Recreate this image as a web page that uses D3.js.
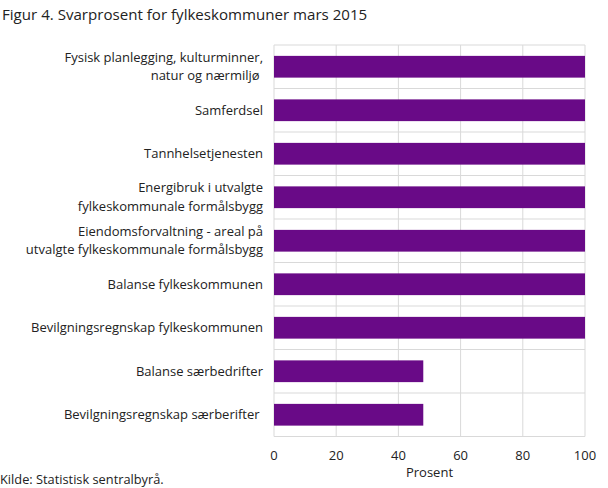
<!DOCTYPE html>
<html><head><meta charset="utf-8">
<script src="https://cdn.jsdelivr.net/npm/d3@7"></script>
<style>body{margin:0;background:#fff;font-family:"Open Sans",sans-serif;} text{white-space:pre;}</style>
</head><body>
<svg id="c" width="608" height="488"></svg>
<script>
const categories = [
  ["Fysisk planlegging, kulturminner,", "natur og nærmiljø "],
  ["Samferdsel"],
  ["Tannhelsetjenesten"],
  ["Energibruk i utvalgte", "fylkeskommunale formålsbygg"],
  ["Eiendomsforvaltning - areal på", "utvalgte fylkeskommunale formålsbygg"],
  ["Balanse fylkeskommunen"],
  ["Bevilgningsregnskap fylkeskommunen"],
  ["Balanse særbedrifter"],
  ["Bevilgningsregnskap særberifter "]
];
const values = [100, 100, 100, 100, 100, 100, 100, 48, 48];
const xTicks = [0, 20, 40, 60, 80, 100];

(function () {
const svg = d3.select("#c");
const mLeft = 274, mRight = 585, mTop = 45, mBottom = 436.5;
const x = d3.scaleLinear().domain([0, 100]).range([mLeft, mRight]);
const y = d3.scaleBand().domain(d3.range(categories.length)).range([mTop, mBottom]).paddingInner(0.5).paddingOuter(0.25);
const grid = "#d9d9d9";
const tc = "#222";

svg.append("text").attr("x", 2).attr("y", 20).attr("font-size", 15.1).attr("fill", tc).text("Figur 4. Svarprosent for fylkeskommuner mars 2015");

svg.append("g").selectAll("line").data(xTicks).join("line")
  .attr("x1", d => x(d)).attr("x2", d => x(d)).attr("y1", mTop).attr("y2", mBottom)
  .attr("stroke", grid).attr("stroke-width", 1);
const bounds = d3.range(categories.length + 1).map(i => mTop + i * (mBottom - mTop) / categories.length);
svg.append("g").selectAll("line").data(bounds).join("line")
  .attr("x1", mLeft).attr("x2", mRight).attr("y1", d => d).attr("y2", d => d)
  .attr("stroke", grid).attr("stroke-width", 1);

svg.append("g").selectAll("rect").data(values).join("rect")
  .attr("x", x(0)).attr("y", (d, i) => y(i)).attr("width", d => x(d) - x(0)).attr("height", y.bandwidth())
  .attr("fill", "#690a87");

const lab = svg.append("g").attr("font-size", 13).attr("fill", tc).attr("text-anchor", "end");
categories.forEach((lines, i) => {
  const cy = y(i) + y.bandwidth() / 2;
  const n = lines.length;
  lines.forEach((t, j) => {
    lab.append("text").attr("x", 263).attr("y", cy + (j - (n - 1) / 2) * 18.5 + 4.3).text(t);
  });
});

svg.append("g").attr("font-size", 13).attr("fill", tc).attr("text-anchor", "middle")
  .selectAll("text").data(xTicks).join("text")
  .attr("x", d => x(d)).attr("y", 460).text(d => d);

svg.append("text").attr("x", (mLeft + mRight) / 2).attr("y", 477).attr("text-anchor", "middle").attr("font-size", 13).attr("fill", tc).text("Prosent");
svg.append("text").attr("x", 0).attr("y", 484).attr("font-size", 12.8).attr("fill", tc).text("Kilde: Statistisk sentralbyrå.");
})();
</script>
</body></html>
